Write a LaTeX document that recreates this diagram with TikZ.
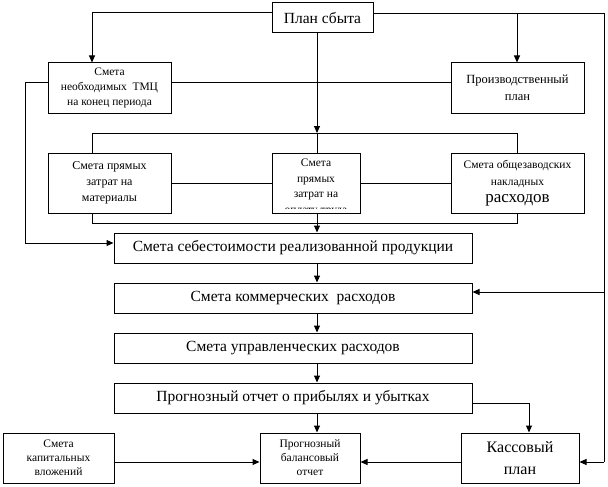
\documentclass[tikz,border=0pt]{standalone}
\usepackage{fontspec}
\setmainfont{Liberation Serif}
\usetikzlibrary{arrows.meta,calc}
\tikzset{
  box/.style={draw, line width=1pt, inner sep=0pt, align=center},
  conn/.style={line width=1pt},
  arr/.style={line width=1pt, -{Triangle[length=7pt,width=6pt]}},
  fsmall/.style={font=\fontsize{11.5}{14}\selectfont},
  fmid/.style={font=\fontsize{12}{16}\selectfont},
  fbar/.style={font=\fontsize{15.5}{18}\selectfont},
}
\begin{document}
\begin{tikzpicture}[x=1pt,y=-1pt]
\useasboundingbox (0,0) rectangle (608,487);
% boxes
\node[box, fbar, minimum width=101, minimum height=30] (plan) at (322.5,18) {План сбыта};
\node[box, fsmall, minimum width=123, minimum height=50, font=\fontsize{11.5}{15}\selectfont] (tmc) at (109.5,88) {Смета\\необходимых\ \ ТМЦ\\на конец периода};
\node[box, minimum width=133, minimum height=50, font=\fontsize{12.5}{17}\selectfont] (proizv) at (517.5,88) {Производственный\\план};
\node[box, fmid, minimum width=123, minimum height=60] (mat) at (109.5,183) {Смета прямых\\затрат на\\материалы};
\node[box, minimum width=88, minimum height=60] (trud) at (316,183) {};
\node[box, minimum width=133, minimum height=60, font=\fontsize{11.5}{17}\selectfont] (ohr) at (517.5,183) {Смета общезаводских\\накладных\\{\fontsize{17}{18}\selectfont расходов}};
\node[box, fbar, minimum width=358, minimum height=30] (seb) at (293,248) {Смета себестоимости реализованной продукции};
\node[box, fbar, minimum width=358, minimum height=30] (kom) at (293,298) {Смета коммерческих\ \ расходов};
\node[box, fbar, minimum width=358, minimum height=30] (upr) at (293,348) {Смета управленческих расходов};
\node[box, fbar, minimum width=358, minimum height=30] (prog) at (293,398) {Прогнозный отчет о прибылях и убытках};
\node[box, fsmall, minimum width=111, minimum height=50] (kap) at (58.5,458) {Смета\\капитальных\\вложений};
\node[box, fsmall, minimum width=100, minimum height=50] (bal) at (310,458) {Прогнозный\\балансовый\\отчет};
\node[box, minimum width=118, minimum height=50, font=\fontsize{16}{22}\selectfont] (kas) at (520,458) {Кассовый\\план};
% clipped text in trud box
\begin{scope}
\clip (272,153) rectangle (360,208.5);
\node[align=center, anchor=north, font=\fontsize{11.5}{15.5}\selectfont] (trudtxt) at ([yshift=-3]trud.north) {Смета\\прямых\\затрат на\\оплату труда};
\end{scope}
% coordinates
\coordinate (cA) at (92,13);
\coordinate (cB) at (517,14);
\coordinate (cR) at (604,14);
\coordinate (cRk) at (604,292);
\coordinate (cRs) at (604,462);
\coordinate (bt) at (317,133);
\coordinate (btL) at (92,133);
\coordinate (btR) at (517,133);
\coordinate (bb) at (317,223);
\coordinate (bbL) at (92,223);
\coordinate (bbR) at (517,223);
\coordinate (cL) at (25,83);
\coordinate (cLs) at (25,243);
\coordinate (cP) at (529,403);
% connectors
\draw[arr] (plan.west |- cA) -| (tmc.north -| cA);
\draw[arr] (plan.east |- cB) -- (cB) -- (proizv.north -| cB);
\draw[conn] (cB) -- (cR) -- (cRs);
\draw[arr] (cRs) -- (kas.east |- cRs);
\draw[arr] (cRk) -- (kom.east |- cRk);
\draw[conn] (tmc.east |- cL) -- (proizv.west |- cL);
\draw[arr] (plan.south -| bt) -- (bt);
\draw[conn] (btL) -- (btR);
\draw[conn] (btL) -- (mat.north -| btL);
\draw[conn] (btR) -- (ohr.north -| btR);
\draw[conn] (bt) -- (trud.north -| bt);
\draw[conn] (mat.east) -- (trud.west);
\draw[conn] (trud.east) -- (ohr.west);
\draw[conn] (mat.south -| bbL) -- (bbL) -- (bbR) -- (ohr.south -| bbR);
\draw[conn] (trud.south -| bb) -- (bb);
\draw[arr] (bb) -- (seb.north -| bb);
\draw[conn] (tmc.west |- cL) -- (cL) -- (cLs);
\draw[arr] (cLs) -- (seb.west |- cLs);
\draw[arr] (seb.south -| bb) -- (kom.north -| bb);
\draw[arr] (kom.south -| bb) -- (upr.north -| bb);
\draw[arr] (upr.south -| bb) -- (prog.north -| bb);
\draw[arr] (prog.south -| bb) -- (bal.north -| bb);
\draw[conn] (prog.east |- cP) -- (cP);
\draw[arr] (cP) -- (kas.north -| cP);
\draw[arr] (kap.east |- cRs) -- (bal.west |- cRs);
\draw[arr] (kas.west |- cRs) -- (bal.east |- cRs);
\end{tikzpicture}
\end{document}
